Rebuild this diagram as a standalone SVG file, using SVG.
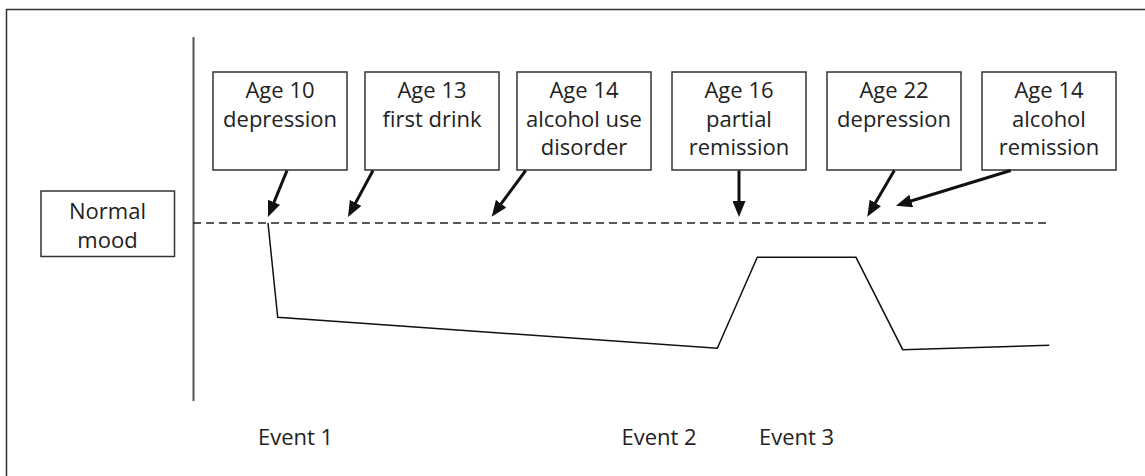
<svg xmlns="http://www.w3.org/2000/svg" width="1145" height="476" viewBox="0 0 1145 476">
  <style>
    .box { fill: #ffffff; stroke: #333333; stroke-width: 1.5; }
    .lbl { font-family: "Open Sans", "Noto Sans", "Liberation Sans", sans-serif; font-size: 22px; fill: #222222; text-anchor: middle; }
    .ev { font-family: "Open Sans", "Noto Sans", "Liberation Sans", sans-serif; font-size: 22px; fill: #222222; }
    .arr { stroke: #111111; stroke-width: 3; fill: none; marker-end: url(#ah); }
  </style>
  <defs>
    <marker id="ah" markerUnits="userSpaceOnUse" markerWidth="16" markerHeight="13" refX="8" refY="6.5" orient="auto" viewBox="0 0 16 13">
      <path d="M0,0 L16,6.5 L0,13 z" fill="#111111"/>
    </marker>
  </defs>
  <rect width="1145" height="476" fill="#ffffff"/>
  <g id="frame">
    <line x1="6" y1="9.5" x2="1145" y2="9.5" stroke="#333333" stroke-width="1.5"/>
    <line x1="6.5" y1="9" x2="6.5" y2="476" stroke="#333333" stroke-width="1.5"/>
  </g>
  <g id="axis">
    <line x1="193.5" y1="37" x2="193.5" y2="401" stroke="#555555" stroke-width="2"/>
    <line x1="193" y1="223" x2="1050" y2="223" stroke="#222222" stroke-width="1.5" stroke-dasharray="8,5"/>
  </g>
  <g id="mood-line">
    <polyline points="268,223 277.7,317.3 717.3,348.3 757.3,257.3 856,257.3 902.7,349.7 1049.3,345.3" fill="none" stroke="#111111" stroke-width="1.5"/>
  </g>
  <g id="normal-mood">
    <rect class="box" x="41" y="191" width="133.5" height="65.5"/>
    <text class="lbl" x="107.5" y="219">Normal</text>
    <text class="lbl" x="107.5" y="248">mood</text>
  </g>
  <g id="node1">
    <rect class="box" x="213" y="72" width="134" height="98"/>
    <text class="lbl" x="280" y="98">Age 10</text>
    <text class="lbl" x="280" y="127">depression</text>
  </g>
  <g id="node2">
    <rect class="box" x="365" y="72" width="134" height="98"/>
    <text class="lbl" x="432" y="98">Age 13</text>
    <text class="lbl" x="432" y="127">first drink</text>
  </g>
  <g id="node3">
    <rect class="box" x="517" y="72" width="134" height="98"/>
    <text class="lbl" x="584" y="98">Age 14</text>
    <text class="lbl" x="584" y="127">alcohol use</text>
    <text class="lbl" x="584" y="155">disorder</text>
  </g>
  <g id="node4">
    <rect class="box" x="672" y="72" width="134" height="98"/>
    <text class="lbl" x="739" y="98">Age 16</text>
    <text class="lbl" x="739" y="127">partial</text>
    <text class="lbl" x="739" y="155">remission</text>
  </g>
  <g id="node5">
    <rect class="box" x="827" y="72" width="134" height="98"/>
    <text class="lbl" x="894" y="98">Age 22</text>
    <text class="lbl" x="894" y="127">depression</text>
  </g>
  <g id="node6">
    <rect class="box" x="982" y="72" width="134" height="98"/>
    <text class="lbl" x="1049" y="98">Age 14</text>
    <text class="lbl" x="1049" y="127">alcohol</text>
    <text class="lbl" x="1049" y="155">remission</text>
  </g>
  <g id="connectors">
    <line class="arr" x1="287" y1="170.5" x2="271" y2="209.6"/>
    <line class="arr" x1="373" y1="170.5" x2="351.8" y2="209.9"/>
    <line class="arr" x1="525.7" y1="170.5" x2="496.4" y2="210.2"/>
    <line class="arr" x1="739" y1="170.5" x2="739" y2="209"/>
    <line class="arr" x1="894.3" y1="170.5" x2="871.3" y2="209.8"/>
    <line class="arr" x1="1010.7" y1="170.5" x2="903.6" y2="203.3"/>
  </g>
  <g id="events">
    <text class="ev" x="258" y="445">Event 1</text>
    <text class="ev" x="621.5" y="445">Event 2</text>
    <text class="ev" x="759" y="445">Event 3</text>
  </g>
</svg>
